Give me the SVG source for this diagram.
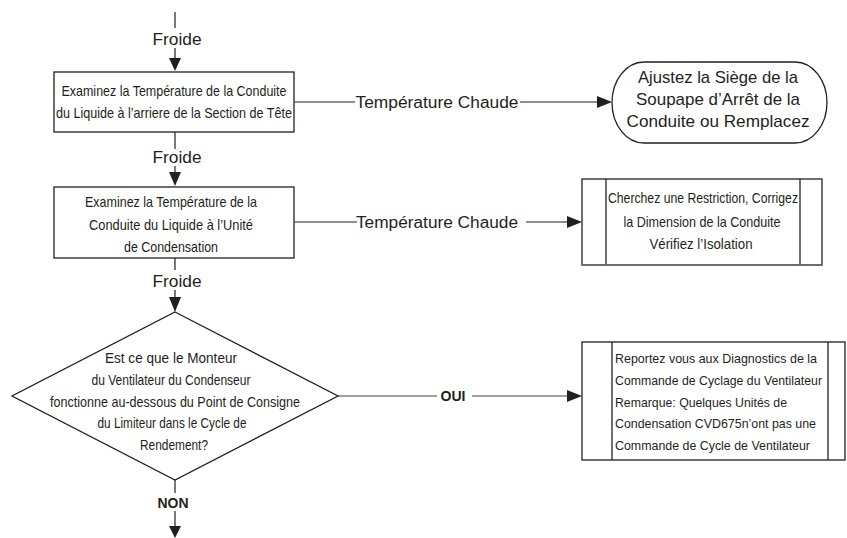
<svg xmlns="http://www.w3.org/2000/svg" width="847" height="538" viewBox="0 0 847 538">
  <style>
    .box { fill: #ffffff; stroke: #231f20; stroke-width: 1.3; }
    .grey { stroke: #6d6e71; }
    .wire { fill: none; stroke: #231f20; stroke-width: 1.2; }
    .wire-grey { fill: none; stroke: #808285; stroke-width: 1.6; }
    .head { fill: #231f20; }
    .t { font-family: "Liberation Sans", Arial, sans-serif; fill: #231f20; }
    .narrow { font-size: 14.5px; text-anchor: middle; }
    .left { font-size: 13.5px; text-anchor: start; }
    .lbl { font-size: 16px; text-anchor: middle; }
    .bold { font-size: 15px; font-weight: bold; text-anchor: middle; }
    .big { font-size: 17px; text-anchor: middle; }
  </style>

  <g id="connectors">
    <!-- entry into first check -->
    <line class="wire" x1="175" y1="12" x2="175" y2="28"/>
    <text class="t lbl" x="177" y="45" textLength="49" lengthAdjust="spacingAndGlyphs">Froide</text>
    <line class="wire" x1="175" y1="48" x2="175" y2="60"/>
    <polygon class="head" points="169,58 181,58 175,71"/>

    <!-- check 1 -> check 2 -->
    <line class="wire" x1="175" y1="132" x2="175" y2="149"/>
    <text class="t lbl" x="177" y="163" textLength="49" lengthAdjust="spacingAndGlyphs">Froide</text>
    <line class="wire" x1="175" y1="166" x2="175" y2="174"/>
    <polygon class="head" points="169,172 181,172 175,186"/>

    <!-- check 1 -> adjust valve -->
    <line class="wire" x1="294" y1="102" x2="355" y2="102"/>
    <text class="t lbl" x="437" y="108" textLength="163" lengthAdjust="spacingAndGlyphs">Température Chaude</text>
    <line class="wire" x1="520" y1="102" x2="598" y2="102"/>
    <polygon class="head" points="597,96 597,108 612,102"/>

    <!-- check 2 -> look for restriction -->
    <line class="wire" x1="294" y1="222" x2="357" y2="222"/>
    <text class="t lbl" x="437" y="228" textLength="162" lengthAdjust="spacingAndGlyphs">Température Chaude</text>
    <line class="wire" x1="526" y1="222" x2="568" y2="222"/>
    <polygon class="head" points="567,216 567,228 582,222"/>

    <!-- check 2 -> decision -->
    <line class="wire" x1="175" y1="258" x2="175" y2="270"/>
    <text class="t lbl" x="177" y="287" textLength="49" lengthAdjust="spacingAndGlyphs">Froide</text>
    <line class="wire" x1="175" y1="290" x2="175" y2="299"/>
    <polygon class="head" points="169,297 181,297 175,312"/>

    <!-- decision: yes -->
    <line class="wire-grey" x1="337" y1="396" x2="437" y2="396"/>
    <text class="t bold" x="453" y="401" textLength="25" lengthAdjust="spacingAndGlyphs">OUI</text>
    <line class="wire-grey" x1="472" y1="396" x2="568" y2="396"/>
    <polygon class="head" points="567,390 567,402 582,396"/>

    <!-- decision: no -->
    <line class="wire" x1="175" y1="480" x2="175" y2="493"/>
    <text class="t bold" x="173" y="508" textLength="31" lengthAdjust="spacingAndGlyphs">NON</text>
    <line class="wire" x1="175" y1="511" x2="175" y2="528"/>
    <polygon class="head" points="169,526 181,526 175,538"/>
  </g>

  <g id="check-head-line">
    <rect class="box" x="54" y="72" width="240" height="60"/>
    <text class="t narrow" x="174" y="96" textLength="225" lengthAdjust="spacingAndGlyphs">Examinez la Température de la Conduite</text>
    <text class="t narrow" x="174" y="118" textLength="236" lengthAdjust="spacingAndGlyphs">du Liquide à l’arriere de la Section de Tête</text>
  </g>

  <g id="adjust-valve">
    <rect class="box" x="612" y="62" width="215" height="81" rx="32" ry="40.5"/>
    <text class="t big" x="718" y="83" textLength="160" lengthAdjust="spacingAndGlyphs">Ajustez la Siège de la</text>
    <text class="t big" x="718" y="105" textLength="164" lengthAdjust="spacingAndGlyphs">Soupape d’Arrêt de la</text>
    <text class="t big" x="718" y="127" textLength="183" lengthAdjust="spacingAndGlyphs">Conduite ou Remplacez</text>
  </g>

  <g id="check-condensing-unit">
    <rect class="box" x="54" y="187" width="240" height="71"/>
    <text class="t narrow" x="171" y="207" textLength="172" lengthAdjust="spacingAndGlyphs">Examinez la Température de la</text>
    <text class="t narrow" x="171" y="230" textLength="164" lengthAdjust="spacingAndGlyphs">Conduite du Liquide à l’Unité</text>
    <text class="t narrow" x="171" y="252" textLength="94" lengthAdjust="spacingAndGlyphs">de Condensation</text>
  </g>

  <g id="look-for-restriction">
    <rect class="box" x="582" y="179" width="240" height="86"/>
    <line class="box" x1="606" y1="179" x2="606" y2="265"/>
    <line class="box" x1="800" y1="179" x2="800" y2="265"/>
    <line class="grey" stroke-width="1.6" x1="582" y1="265" x2="822" y2="265"/>
    <text class="t narrow" x="703" y="203" textLength="190" lengthAdjust="spacingAndGlyphs">Cherchez une Restriction, Corrigez</text>
    <text class="t narrow" x="702" y="227" textLength="157" lengthAdjust="spacingAndGlyphs">la Dimension de la Conduite</text>
    <text class="t narrow" x="701" y="249" textLength="103" lengthAdjust="spacingAndGlyphs">Vérifiez l’Isolation</text>
  </g>

  <g id="fan-decision">
    <polygon class="box" points="175,312 338,396 175,480 12,396"/>
    <text class="t narrow" x="171" y="363" textLength="132" lengthAdjust="spacingAndGlyphs">Est ce que le Monteur</text>
    <text class="t narrow" x="171" y="385" textLength="159" lengthAdjust="spacingAndGlyphs">du Ventilateur du Condenseur</text>
    <text class="t narrow" x="175" y="407" textLength="250" lengthAdjust="spacingAndGlyphs">fonctionne au-dessous du Point de Consigne</text>
    <text class="t narrow" x="172" y="428" textLength="149" lengthAdjust="spacingAndGlyphs">du Limiteur dans le Cycle de</text>
    <text class="t narrow" x="174" y="450" textLength="68" lengthAdjust="spacingAndGlyphs">Rendement?</text>
  </g>

  <g id="fan-cycling-diagnostics">
    <rect class="box" x="582" y="342" width="263" height="118" stroke="#6d6e71"/>
    <line class="box" x1="612" y1="342" x2="612" y2="460"/>
    <line class="box" x1="828" y1="342" x2="828" y2="460"/>
    <text class="t left" x="615" y="363" textLength="202" lengthAdjust="spacingAndGlyphs">Reportez vous aux Diagnostics de la</text>
    <text class="t left" x="615" y="385" textLength="207" lengthAdjust="spacingAndGlyphs">Commande de Cyclage du Ventilateur</text>
    <text class="t left" x="615" y="407" textLength="172" lengthAdjust="spacingAndGlyphs">Remarque: Quelques Unités de</text>
    <text class="t left" x="615" y="428" textLength="201" lengthAdjust="spacingAndGlyphs">Condensation CVD675n’ont pas une</text>
    <text class="t left" x="615" y="450" textLength="195" lengthAdjust="spacingAndGlyphs">Commande de Cycle de Ventilateur</text>
  </g>
</svg>
